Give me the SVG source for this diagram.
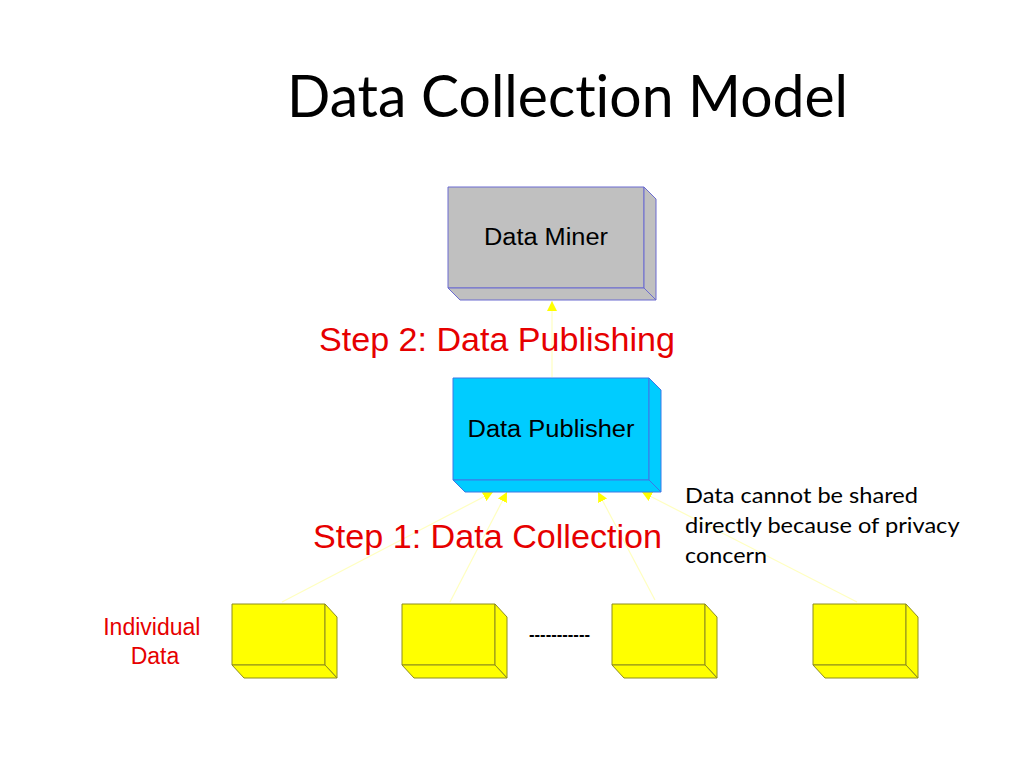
<svg xmlns="http://www.w3.org/2000/svg" width="1024" height="768" viewBox="0 0 1024 768">
<style>
.box{stroke-width:1}
.gray{fill:#C0C0C0;stroke:#6B6BD0}
.cyan{fill:#00CCFF;stroke:#3C78E6}
.yel{fill:#FFFF00;stroke:#8C8C1E}
.lbl{font-family:"Liberation Sans",Arial,sans-serif;fill:#000}
.red{font-family:"Liberation Sans",Arial,sans-serif;fill:#E60000}
.cal{font-family:Lato,"Open Sans",sans-serif;fill:#000;font-variant-ligatures:none;font-feature-settings:"liga" 0,"clig" 0,"dlig" 0}
.conn{stroke:#FFFFC0;stroke-width:1.2;fill:none}
</style>
<defs>
<marker id="ah" markerUnits="userSpaceOnUse" markerWidth="12" markerHeight="10" refX="10" refY="5" orient="auto">
<path d="M0,0 L10,5 L0,10 Z" fill="#FFFF00"/>
</marker>
</defs>
<rect width="1024" height="768" fill="#fff"/>
<text class="cal" x="287" y="117" font-size="58" textLength="561" lengthAdjust="spacingAndGlyphs">Data Collection Model</text>

<g id="connectors">
<line class="conn" x1="552" y1="377" x2="552" y2="301" marker-end="url(#ah)"/>
<line class="conn" x1="282" y1="602" x2="493" y2="492" marker-end="url(#ah)"/>
<line class="conn" x1="450" y1="602" x2="507" y2="492" marker-end="url(#ah)"/>
<line class="conn" x1="655" y1="600" x2="598" y2="492" marker-end="url(#ah)"/>
<line class="conn" x1="857" y1="602" x2="642" y2="492" marker-end="url(#ah)"/>
</g>

<g id="data-miner">
<polygon class="box gray" points="448,187 644,187 644,288 448,288"/>
<polygon class="box gray" points="644,187 656,199 656,300 644,288"/>
<polygon class="box gray" points="448,288 644,288 656,300 460,300"/>
<text class="lbl" x="546" y="245" font-size="23" text-anchor="middle" textLength="124" lengthAdjust="spacingAndGlyphs">Data Miner</text>
</g>

<g id="step2">
<text class="red" x="319" y="351" font-size="34" textLength="356" lengthAdjust="spacingAndGlyphs">Step 2: Data Publishing</text>
</g>

<g id="data-publisher">
<polygon class="box cyan" points="453,378 649,378 649,480 453,480"/>
<polygon class="box cyan" points="649,378 661,390 661,492 649,480"/>
<polygon class="box cyan" points="453,480 649,480 661,492 465,492"/>
<text class="lbl" x="551" y="437" font-size="23" text-anchor="middle" textLength="167" lengthAdjust="spacingAndGlyphs">Data Publisher</text>
</g>

<g id="step1">
<text class="red" x="313" y="548" font-size="34" textLength="349" lengthAdjust="spacingAndGlyphs">Step 1: Data Collection</text>
</g>

<g id="note">
<text class="cal" font-size="21">
<tspan x="685" y="503" textLength="233" lengthAdjust="spacingAndGlyphs">Data cannot be shared</tspan>
<tspan x="685" y="533" textLength="274" lengthAdjust="spacingAndGlyphs">directly because of privacy</tspan>
<tspan x="685" y="563" textLength="82" lengthAdjust="spacingAndGlyphs">concern</tspan>
</text>
</g>

<g id="individual-label">
<text class="red" font-size="23" text-anchor="middle">
<tspan x="155" y="635">Individual</tspan>
<tspan x="155" y="664">Data</tspan>
</text>
</g>

<g id="individual-1">
<polygon class="box yel" points="232,604 325,604 325,665 232,665"/>
<polygon class="box yel" points="325,604 337,617 337,678 325,665"/>
<polygon class="box yel" points="232,665 325,665 337,678 244,678"/>
</g>
<g id="individual-2">
<polygon class="box yel" points="402,604 495,604 495,665 402,665"/>
<polygon class="box yel" points="495,604 507,617 507,678 495,665"/>
<polygon class="box yel" points="402,665 495,665 507,678 414,678"/>
</g>
<g id="ellipsis">
<text class="lbl" x="529" y="640" font-size="17" font-weight="bold" textLength="61" lengthAdjust="spacingAndGlyphs">-----------</text>
</g>
<g id="individual-3">
<polygon class="box yel" points="612,604 705,604 705,665 612,665"/>
<polygon class="box yel" points="705,604 717,617 717,678 705,665"/>
<polygon class="box yel" points="612,665 705,665 717,678 624,678"/>
</g>
<g id="individual-4">
<polygon class="box yel" points="813,604 906,604 906,665 813,665"/>
<polygon class="box yel" points="906,604 918,617 918,678 906,665"/>
<polygon class="box yel" points="813,665 906,665 918,678 825,678"/>
</g>
</svg>
